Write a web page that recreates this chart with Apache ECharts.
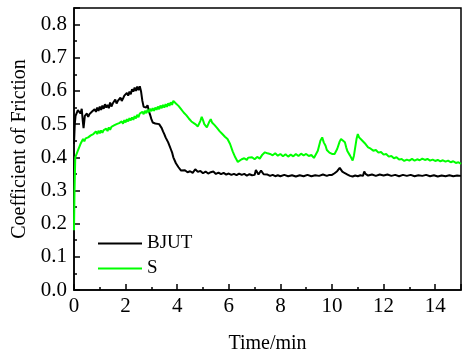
<!DOCTYPE html>
<html>
<head>
<meta charset="utf-8">
<script src="https://cdn.jsdelivr.net/npm/echarts@6/dist/echarts.min.js"></script>
<style>html,body{margin:0;padding:0;background:#fff}#c{width:464px;height:359px}</style>
</head>
<body>
<div id="c"></div>
<script>
var seriesNames = ['BJUT', 'S'];
var xTicks = [0, 2, 4, 6, 8, 10, 12, 14];
var yTicks = ['0.0','0.1','0.2','0.3','0.4','0.5','0.6','0.7','0.8'];

var bjut = [[0,0.44],[0.03,0.5],[0.06,0.525],[0.1,0.53],[0.15,0.542],[0.2,0.547],[0.25,0.532],[0.3,0.546],[0.34,0.51],[0.37,0.488],[0.42,0.525],[0.5,0.532],[0.55,0.522],[0.6,0.53],[0.65,0.526],[0.7,0.538],[0.75,0.532],[0.8,0.545],[0.85,0.537],[0.9,0.55],[0.95,0.54],[1.0,0.553],[1.05,0.543],[1.1,0.556],[1.15,0.546],[1.2,0.56],[1.25,0.55],[1.3,0.558],[1.35,0.548],[1.4,0.565],[1.45,0.553],[1.5,0.562],[1.55,0.556],[1.6,0.574],[1.65,0.562],[1.7,0.57],[1.75,0.565],[1.8,0.58],[1.85,0.57],[1.9,0.577],[1.95,0.586],[2.0,0.58],[2.05,0.594],[2.1,0.586],[2.15,0.598],[2.2,0.59],[2.25,0.605],[2.3,0.598],[2.35,0.61],[2.4,0.6],[2.45,0.613],[2.5,0.602],[2.55,0.614],[2.6,0.598],[2.65,0.57],[2.7,0.552],[2.75,0.558],[2.8,0.55],[2.85,0.557],[2.9,0.54],[2.95,0.528],[3.0,0.515],[3.05,0.505],[3.1,0.508],[3.15,0.502],[3.2,0.506],[3.3,0.5],[3.35,0.494],[3.4,0.488],[3.45,0.478],[3.5,0.47],[3.55,0.46],[3.6,0.455],[3.65,0.445],[3.7,0.44],[3.75,0.425],[3.8,0.415],[3.85,0.4],[3.9,0.395],[3.95,0.382],[4.0,0.378],[4.05,0.37],[4.1,0.368],[4.15,0.36],[4.2,0.356],[4.3,0.361],[4.4,0.355],[4.5,0.358],[4.6,0.353],[4.7,0.364],[4.8,0.356],[4.9,0.359],[5.0,0.352],[5.1,0.357],[5.2,0.351],[5.3,0.355],[5.4,0.357],[5.5,0.35],[5.6,0.354],[5.7,0.349],[5.8,0.353],[5.9,0.348],[6.0,0.351],[6.1,0.347],[6.2,0.35],[6.3,0.346],[6.4,0.351],[6.5,0.347],[6.6,0.35],[6.7,0.345],[6.8,0.349],[6.9,0.346],[7.0,0.347],[7.05,0.362],[7.1,0.366],[7.15,0.348],[7.2,0.345],[7.25,0.36],[7.3,0.366],[7.35,0.349],[7.4,0.345],[7.5,0.348],[7.6,0.344],[7.7,0.347],[7.8,0.343],[7.9,0.346],[8.0,0.343],[8.15,0.347],[8.3,0.343],[8.45,0.346],[8.6,0.342],[8.75,0.346],[8.9,0.343],[9.05,0.347],[9.2,0.343],[9.35,0.346],[9.5,0.344],[9.65,0.348],[9.8,0.344],[9.9,0.347],[10.0,0.347],[10.1,0.352],[10.2,0.358],[10.3,0.368],[10.35,0.362],[10.4,0.357],[10.5,0.352],[10.6,0.348],[10.7,0.344],[10.8,0.342],[10.9,0.345],[11.0,0.343],[11.1,0.346],[11.2,0.344],[11.25,0.357],[11.3,0.35],[11.4,0.345],[11.55,0.348],[11.7,0.344],[11.85,0.348],[12.0,0.345],[12.15,0.348],[12.3,0.344],[12.45,0.347],[12.6,0.343],[12.75,0.347],[12.9,0.344],[13.05,0.347],[13.2,0.343],[13.35,0.346],[13.5,0.344],[13.65,0.347],[13.8,0.343],[13.95,0.346],[14.1,0.342],[14.25,0.345],[14.4,0.343],[14.55,0.346],[14.7,0.343],[14.85,0.345],[15.0,0.344]];

var sData = [[0,0.18],[0.02,0.30],[0.05,0.40],[0.1,0.405],[0.15,0.42],[0.2,0.425],[0.25,0.44],[0.3,0.445],[0.35,0.455],[0.4,0.448],[0.45,0.457],[0.5,0.452],[0.55,0.46],[0.6,0.455],[0.65,0.466],[0.7,0.46],[0.75,0.47],[0.8,0.464],[0.85,0.478],[0.9,0.47],[0.95,0.48],[1.0,0.472],[1.05,0.481],[1.1,0.474],[1.15,0.482],[1.2,0.476],[1.25,0.486],[1.3,0.479],[1.35,0.49],[1.4,0.483],[1.45,0.492],[1.5,0.486],[1.55,0.496],[1.6,0.49],[1.65,0.5],[1.7,0.494],[1.75,0.503],[1.8,0.497],[1.85,0.508],[1.9,0.501],[1.95,0.512],[2.0,0.505],[2.05,0.515],[2.1,0.508],[2.15,0.518],[2.2,0.511],[2.25,0.52],[2.3,0.513],[2.35,0.524],[2.4,0.517],[2.45,0.528],[2.5,0.521],[2.55,0.532],[2.6,0.526],[2.65,0.537],[2.7,0.53],[2.75,0.54],[2.8,0.533],[2.85,0.543],[2.9,0.536],[2.95,0.546],[3.0,0.539],[3.05,0.548],[3.1,0.54],[3.15,0.55],[3.2,0.543],[3.25,0.553],[3.3,0.545],[3.35,0.556],[3.4,0.548],[3.45,0.558],[3.5,0.55],[3.55,0.56],[3.6,0.552],[3.65,0.563],[3.7,0.555],[3.75,0.566],[3.8,0.558],[3.85,0.57],[3.9,0.575],[3.95,0.562],[4.0,0.566],[4.05,0.555],[4.1,0.558],[4.15,0.545],[4.2,0.548],[4.25,0.535],[4.3,0.54],[4.35,0.527],[4.4,0.53],[4.45,0.517],[4.5,0.52],[4.55,0.508],[4.6,0.512],[4.7,0.5],[4.75,0.505],[4.8,0.493],[4.85,0.498],[4.9,0.51],[4.95,0.522],[5.0,0.512],[5.05,0.5],[5.1,0.503],[5.15,0.49],[5.2,0.495],[5.25,0.508],[5.3,0.515],[5.35,0.505],[5.4,0.51],[5.45,0.497],[5.5,0.5],[5.55,0.488],[5.6,0.49],[5.65,0.478],[5.7,0.482],[5.75,0.47],[5.8,0.474],[5.85,0.462],[5.9,0.468],[5.95,0.455],[6.0,0.458],[6.05,0.44],[6.1,0.435],[6.15,0.418],[6.2,0.415],[6.25,0.4],[6.3,0.395],[6.35,0.386],[6.4,0.39],[6.5,0.394],[6.55,0.389],[6.6,0.397],[6.7,0.392],[6.75,0.399],[6.8,0.393],[6.9,0.4],[7.0,0.394],[7.1,0.401],[7.2,0.396],[7.3,0.408],[7.4,0.415],[7.45,0.42],[7.5,0.412],[7.55,0.418],[7.6,0.41],[7.7,0.406],[7.8,0.412],[7.9,0.405],[8.0,0.41],[8.1,0.403],[8.2,0.409],[8.3,0.402],[8.4,0.408],[8.5,0.403],[8.6,0.41],[8.7,0.404],[8.8,0.411],[8.9,0.406],[9.0,0.41],[9.1,0.404],[9.2,0.407],[9.3,0.398],[9.35,0.402],[9.45,0.42],[9.55,0.45],[9.62,0.46],[9.68,0.445],[9.75,0.435],[9.8,0.422],[9.85,0.418],[9.9,0.414],[10.0,0.41],[10.05,0.404],[10.1,0.41],[10.2,0.425],[10.3,0.448],[10.35,0.455],[10.4,0.452],[10.5,0.445],[10.55,0.43],[10.6,0.418],[10.7,0.405],[10.75,0.398],[10.8,0.39],[10.85,0.405],[10.9,0.43],[10.95,0.455],[11.0,0.47],[11.05,0.46],[11.1,0.465],[11.15,0.452],[11.2,0.456],[11.3,0.44],[11.35,0.437],[11.4,0.43],[11.5,0.426],[11.6,0.42],[11.7,0.422],[11.8,0.414],[11.9,0.416],[12.0,0.408],[12.1,0.41],[12.2,0.402],[12.3,0.404],[12.4,0.397],[12.5,0.4],[12.6,0.393],[12.7,0.395],[12.8,0.389],[12.9,0.393],[13.0,0.39],[13.1,0.395],[13.2,0.39],[13.3,0.394],[13.4,0.391],[13.5,0.396],[13.6,0.392],[13.7,0.395],[13.8,0.39],[13.9,0.393],[14.0,0.389],[14.1,0.392],[14.2,0.388],[14.3,0.391],[14.4,0.387],[14.5,0.39],[14.6,0.385],[14.7,0.388],[14.8,0.383],[14.9,0.385],[15.0,0.38]];

var FONT = '"Liberation Serif", "Times New Roman", serif';
var labelRich = {t: {fontFamily: FONT, fontSize: 21, color: '#000'}};
var chart = echarts.init(document.getElementById('c'), null, {renderer: 'canvas'});
chart.setOption({
  animation: false,
  backgroundColor: '#fff',
  textStyle: {fontFamily: FONT, color: '#000'},
  grid: {left: 74, right: 2, top: 8, bottom: 65, show: true, borderColor: '#000', borderWidth: 1.5, backgroundColor: 'transparent'},
  legend: {
    orient: 'vertical', left: 93, top: 226, itemWidth: 44, itemHeight: 2, itemGap: 0,
    icon: 'rect',
    textStyle: {fontFamily: FONT, fontSize: 19, color: '#000', lineHeight: 25},
    data: seriesNames
  },
  xAxis: {
    type: 'value', min: 0, max: 15, interval: 2,
    name: 'Time/min', nameLocation: 'middle', nameGap: 44,
    nameTextStyle: {fontFamily: FONT, fontSize: 20, color: '#000'},
    axisLine: {show: true, onZero: false, lineStyle: {color: '#000', width: 1.5}},
    axisTick: {show: true, inside: true, length: 6, lineStyle: {color: '#000', width: 1.5}},
    minorTick: {show: true, splitNumber: 2, length: 3, lineStyle: {color: '#000', width: 1.5}},
    splitLine: {show: false},
    axisLabel: {fontFamily: FONT, fontSize: 21, color: '#000', margin: 6, rich: labelRich,
      formatter: function (v) { return xTicks.indexOf(v) >= 0 ? '{t|' + v + '}' : ''; }}
  },
  yAxis: {
    type: 'value', min: 0, max: 0.85, interval: 0.1,
    name: 'Coefficient of Friction', nameLocation: 'middle', nameGap: 37,
    nameTextStyle: {fontFamily: FONT, fontSize: 20, color: '#000'},
    axisLine: {show: true, onZero: false, lineStyle: {color: '#000', width: 1.5}},
    axisTick: {show: true, inside: true, length: 6, lineStyle: {color: '#000', width: 1.5}},
    minorTick: {show: true, splitNumber: 2, length: 3, lineStyle: {color: '#000', width: 1.5}},
    splitLine: {show: false},
    axisLabel: {fontFamily: FONT, fontSize: 21, color: '#000', margin: 7, showMaxLabel: false, rich: labelRich,
      formatter: function (v) { var i = Math.round(v * 10); return yTicks[i] ? '{t|' + yTicks[i] + '}' : ''; }}
  },
  series: [
    {name: seriesNames[0], type: 'line', data: bjut, symbol: 'none', lineStyle: {color: '#000', width: 2}, itemStyle: {color: '#000'}},
    {name: seriesNames[1], type: 'line', data: sData, symbol: 'none', lineStyle: {color: '#00ff00', width: 2}, itemStyle: {color: '#00ff00'}}
  ]
});
</script>
</body>
</html>
